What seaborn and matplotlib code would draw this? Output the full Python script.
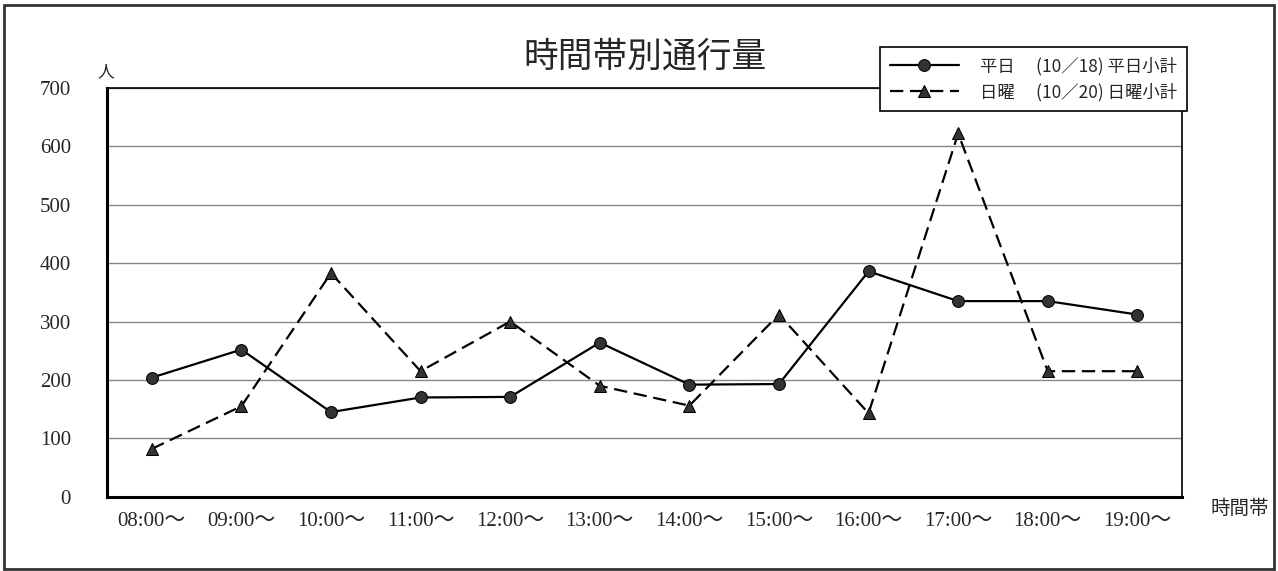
import matplotlib as mpl
mpl.use("Agg")
import matplotlib.pyplot as plt
import numpy as np
import pandas as pd
import seaborn as sns
from matplotlib.patches import Rectangle

hours = ["08:00～", "09:00～", "10:00～", "11:00～", "12:00～", "13:00～",
         "14:00～", "15:00～", "16:00～", "17:00～", "18:00～", "19:00～"]
weekday = [204, 252, 145, 170, 171, 264, 192, 193, 386, 335, 335, 312]
sunday = [82, 155, 383, 215, 300, 190, 156, 312, 143, 622, 215, 215]
labels = ["平日　 (10／18) 平日小計", "日曜　 (10／20) 日曜小計"]

df = pd.DataFrame({"hour": hours * 2,
                   "count": weekday + sunday,
                   "series": [labels[0]] * len(hours) + [labels[1]] * len(hours)})

sns.set_style("white")
plt.rcParams["font.family"] = ["Noto Sans CJK JP", "DejaVu Sans"]
serif = ["Liberation Serif", "Noto Sans CJK JP"]

fig = plt.figure(figsize=(12.78, 5.71), dpi=100)
ax = fig.add_axes([0.0837, 0.13, 0.8413, 0.716])

sns.lineplot(data=df, x="hour", y="count", hue="series", style="series",
             markers=["o", "^"], dashes=[(None, None), (6, 3)],
             palette=["black", "black"], markersize=8.5, linewidth=1.6,
             markerfacecolor="#333333", markeredgecolor="black",
             sort=False, ax=ax, legend=True)

ax.set_xlim(-0.5, len(hours) - 0.5)
ax.set_ylim(0, 700)
ax.set_yticks(range(0, 701, 100))
ax.yaxis.grid(True, color="#888888", linewidth=1)
ax.set_axisbelow(True)
ax.set_xlabel("")
ax.set_ylabel("")

ax.set_xticks(np.arange(len(hours)))
ax.set_xticklabels(hours, family=serif, fontsize=15)
ax.set_xticks(np.arange(0.5, len(hours) - 0.5), minor=True)
ax.tick_params(axis="x", which="major", length=0, pad=11)
ax.tick_params(axis="x", which="minor", direction="in", length=5, width=1, color="black")
ax.tick_params(axis="y", length=0, pad=26)
for t in ax.get_yticklabels():
    t.set_family(serif)
    t.set_fontsize(15)

ax.spines["left"].set_linewidth(2.2)
ax.spines["bottom"].set_linewidth(2.2)
ax.spines["top"].set_linewidth(1.2)
ax.spines["right"].set_linewidth(1.2)
for s in ax.spines.values():
    s.set_color("black")

leg = ax.legend(loc="upper left", bbox_to_anchor=(0.719, 1.1), borderaxespad=0,
                frameon=True, fancybox=False, edgecolor="black", framealpha=1,
                fontsize=12.5, handlelength=4, handletextpad=1.2,
                borderpad=0.55, labelspacing=0.45)
leg.get_frame().set_linewidth(1.2)
leg.set_zorder(10)

fig.text(0.505, 0.9, "時間帯別通行量", ha="center", va="center", fontsize=25)
fig.text(0.083, 0.875, "人", ha="center", va="center", fontsize=12)
fig.text(0.97, 0.11, "時間帯", ha="center", va="center", fontsize=14)

fig.patches.append(Rectangle((0.003, 0.004), 0.994, 0.987, transform=fig.transFigure,
                             fill=False, edgecolor="#333333", linewidth=2))

fig.savefig("out.png", dpi=100)
